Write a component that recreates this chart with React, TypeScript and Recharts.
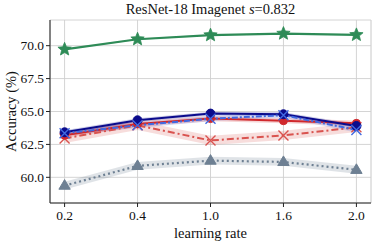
import React from 'react';
import { ComposedChart, Line, Area, XAxis, YAxis, CartesianGrid, Label } from 'recharts';

const categories = ['0.2', '0.4', '1.0', '1.6', '2.0'];
const greenStar = [69.72, 70.49, 70.8, 70.92, 70.82];
const greenStd = [0.05, 0.05, 0.05, 0.05, 0.05];
const navyCircle = [63.42, 64.33, 64.84, 64.79, 63.9];
const navyStd = [0.15, 0.15, 0.15, 0.15, 0.15];
const redCircle = [63.2, 64.05, 64.46, 64.3, 64.1];
const redCircleStd = [0.2, 0.2, 0.2, 0.2, 0.2];
const blueCross = [63.35, 63.95, 64.45, 64.72, 63.6];
const blueStd = [0.2, 0.2, 0.2, 0.2, 0.2];
const redCross = [62.95, 63.95, 62.8, 63.18, 63.8];
const redCrossStd = [0.35, 0.35, 0.35, 0.35, 0.35];
const grayTri = [59.37, 60.87, 61.27, 61.17, 60.57];
const grayStd = [0.3, 0.3, 0.3, 0.3, 0.3];

const yTicks = [60, 62.5, 65, 67.5, 70];
const yMinorTicks: number[] = [];
for (let v = 58.5; v <= 71.5; v += 0.5) yMinorTicks.push(Math.round(v * 10) / 10);
const xTicks = [0, 1, 2, 3, 4];
const xMinorTicks: number[] = [];
for (let i = -1; i <= 21; i++) xMinorTicks.push(Math.round(i * 2) / 10);

const data = categories.map((c, i) => ({
  idx: i,
  green: greenStar[i],
  greenBand: [greenStar[i] - greenStd[i], greenStar[i] + greenStd[i]],
  navy: navyCircle[i],
  navyBand: [navyCircle[i] - navyStd[i], navyCircle[i] + navyStd[i]],
  redc: redCircle[i],
  redcBand: [redCircle[i] - redCircleStd[i], redCircle[i] + redCircleStd[i]],
  blue: blueCross[i],
  blueBand: [blueCross[i] - blueStd[i], blueCross[i] + blueStd[i]],
  redx: redCross[i],
  redxBand: [redCross[i] - redCrossStd[i], redCross[i] + redCrossStd[i]],
  gray: grayTri[i],
  grayBand: [grayTri[i] - grayStd[i], grayTri[i] + grayStd[i]],
}));

const FONT = '"Liberation Serif", "Times New Roman", serif';

const StarDot = (color: string, r: number) => (props: any) => {
  const { cx, cy, index } = props;
  if (cx == null || cy == null) return null;
  const pts: string[] = [];
  for (let k = 0; k < 10; k++) {
    const rad = k % 2 === 0 ? r : r * 0.45;
    const a = -Math.PI / 2 + (k * Math.PI) / 5;
    pts.push(`${cx + rad * Math.cos(a)},${cy + rad * Math.sin(a)}`);
  }
  return <polygon key={index} points={pts.join(' ')} fill={color} stroke={color} strokeWidth={0.8} />;
};

const CircleDot = (color: string, r: number) => (props: any) => {
  const { cx, cy, index } = props;
  if (cx == null || cy == null) return null;
  return <circle key={index} cx={cx} cy={cy} r={r} fill={color} stroke={color} />;
};

const CrossDot = (color: string, r: number) => (props: any) => {
  const { cx, cy, index } = props;
  if (cx == null || cy == null) return null;
  return (
    <path key={index} d={`M${cx - r},${cy - r}L${cx + r},${cy + r}M${cx - r},${cy + r}L${cx + r},${cy - r}`} stroke={color} strokeWidth={1.4} fill="none" />
  );
};

const TriDot = (color: string, r: number) => (props: any) => {
  const { cx, cy, index } = props;
  if (cx == null || cy == null) return null;
  return (
    <polygon key={index} points={`${cx},${cy - r} ${cx - r * 0.95},${cy + r * 0.6} ${cx + r * 0.95},${cy + r * 0.6}`} fill={color} stroke={color} />
  );
};

const C = {
  green: '#2e8b57',
  navy: '#0b0b8c',
  redc: '#d0282c',
  blue: '#4169e1',
  redx: '#d9534f',
  gray: '#6e8093',
};

export default function App() {
  return (
    <div style={{ position: 'absolute', left: 0, top: 0, width: 374, height: 243, background: '#fff' }}>
      <div
        style={{
          position: 'absolute',
          left: 0,
          width: 421,
          top: 1,
          textAlign: 'center',
          fontFamily: FONT,
          fontSize: 14.5,
          color: '#111',
          whiteSpace: 'nowrap',
        }}
      >
        ResNet-18 Imagenet <i>s</i>=0.832
      </div>
      <ComposedChart
        width={374}
        height={243}
        data={data}
        margin={{ top: 20, right: 3, left: 0, bottom: 0 }}
        style={{ fontFamily: FONT }}
      >
        <XAxis
          xAxisId="minor"
          dataKey="idx"
          type="number"
          domain={[-0.2, 4.2]}
          ticks={xMinorTicks.filter((t) => t >= -0.2 && t <= 4.2)}
          height={0}
          axisLine={false}
          tick={false}
          tickSize={2}
          stroke="#222"
          allowDataOverflow
        />
        <YAxis
          yAxisId="minor"
          type="number"
          domain={[58.05, 71.95]}
          ticks={yMinorTicks}
          width={0}
          axisLine={false}
          tick={false}
          tickSize={2}
          stroke="#222"
          allowDataOverflow
        />
        <XAxis
          dataKey="idx"
          type="number"
          domain={[-0.2, 4.2]}
          ticks={xTicks}
          tickFormatter={(v: number) => categories[v] ?? ''}
          height={40}
          tickSize={4}
          tickMargin={3}
          stroke="#222"
          tick={{ fill: '#111', fontSize: 13.5, fontFamily: FONT }}
          allowDataOverflow
        >
          <Label value="learning rate" position="insideBottom" offset={5} style={{ fill: '#111', fontSize: 14.5, fontFamily: FONT }} />
        </XAxis>
        <YAxis
          type="number"
          domain={[58.05, 71.95]}
          ticks={yTicks}
          tickFormatter={(v: number) => v.toFixed(1)}
          width={50}
          tickSize={4}
          tickMargin={2}
          stroke="#222"
          tick={{ fill: '#111', fontSize: 13.5, fontFamily: FONT }}
          allowDataOverflow
        >
          <Label value="Accuracy (%)" angle={-90} position="insideLeft" offset={11} style={{ textAnchor: 'middle', fill: '#111', fontSize: 14.5, fontFamily: FONT }} />
        </YAxis>
        <XAxis xAxisId="top" orientation="top" dataKey="idx" type="number" domain={[-0.2, 4.2]} height={0} tick={false} tickLine={false} stroke="#444" />
        <YAxis yAxisId="right" orientation="right" type="number" domain={[58.05, 71.95]} width={0} tick={false} tickLine={false} stroke="#444" />
        <CartesianGrid xAxisId="minor" yAxisId="minor" horizontal={false} stroke="#e6e6e6" strokeWidth={0.8} />
        <CartesianGrid stroke="#cfcfcf" strokeWidth={0.9} />

        <Area dataKey="grayBand" type="linear" stroke="none" fill={C.gray} fillOpacity={0.22} isAnimationActive={false} />
        <Area dataKey="redxBand" type="linear" stroke="none" fill={C.redx} fillOpacity={0.2} isAnimationActive={false} />
        <Area dataKey="blueBand" type="linear" stroke="none" fill={C.blue} fillOpacity={0.2} isAnimationActive={false} />
        <Area dataKey="redcBand" type="linear" stroke="none" fill={C.redc} fillOpacity={0.2} isAnimationActive={false} />
        <Area dataKey="navyBand" type="linear" stroke="none" fill={C.navy} fillOpacity={0.2} isAnimationActive={false} />
        <Area dataKey="greenBand" type="linear" stroke="none" fill={C.green} fillOpacity={0.2} isAnimationActive={false} />

        <Line dataKey="gray" type="linear" stroke={C.gray} strokeWidth={2.2} strokeDasharray="2 3" dot={TriDot(C.gray, 6)} isAnimationActive={false} />
        <Line dataKey="redx" type="linear" stroke={C.redx} strokeWidth={2} strokeDasharray="7 3 2 3" dot={CrossDot(C.redx, 5)} isAnimationActive={false} />
        <Line dataKey="redc" type="linear" stroke={C.redc} strokeWidth={2} dot={CircleDot(C.redc, 4)} isAnimationActive={false} />
        <Line dataKey="navy" type="linear" stroke={C.navy} strokeWidth={2} dot={CircleDot(C.navy, 4.5)} isAnimationActive={false} />
        <Line dataKey="blue" type="linear" stroke={C.blue} strokeWidth={2} strokeDasharray="6 2 2 2" dot={CrossDot(C.blue, 5)} isAnimationActive={false} />
        <Line dataKey="green" type="linear" stroke={C.green} strokeWidth={2.2} dot={StarDot(C.green, 7)} isAnimationActive={false} />
      </ComposedChart>
    </div>
  );
}
